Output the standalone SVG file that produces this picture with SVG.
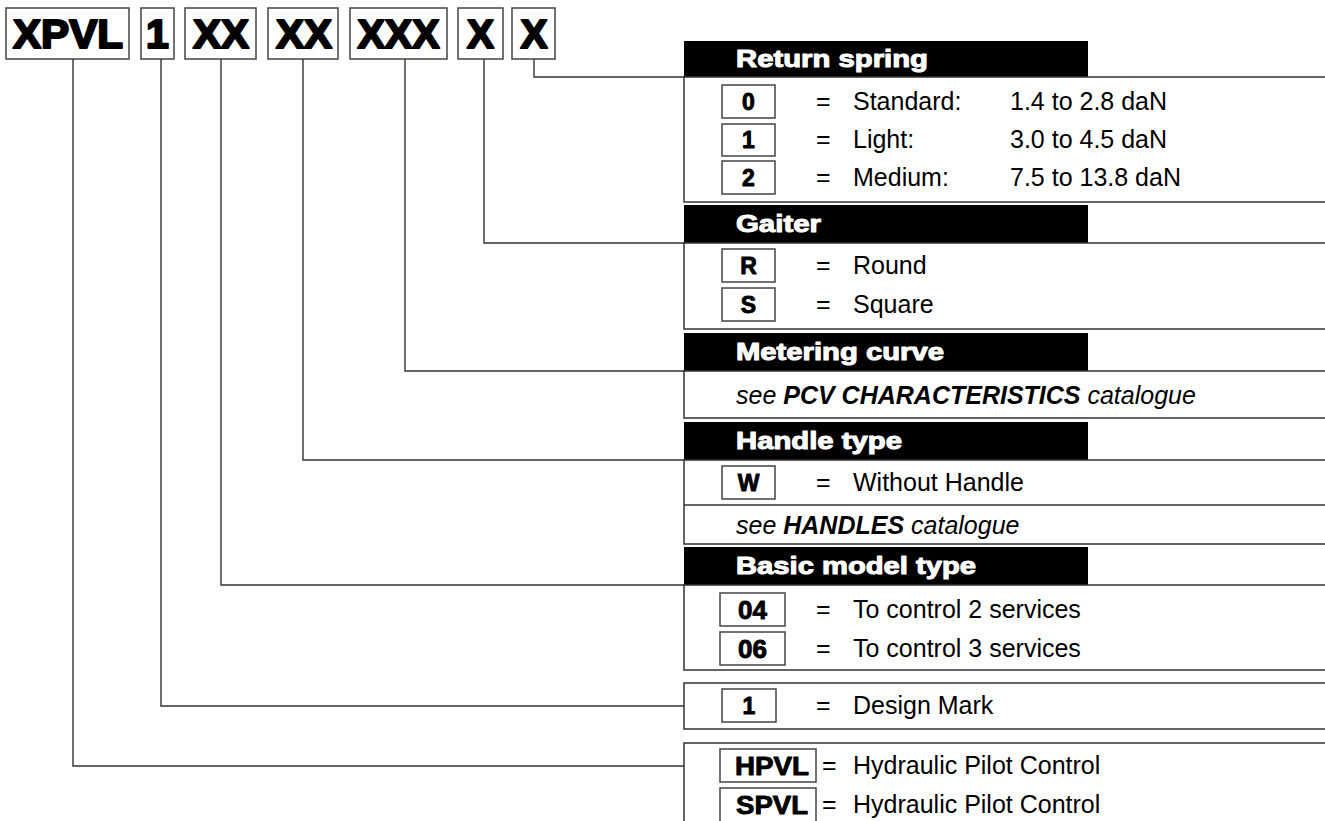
<svg xmlns="http://www.w3.org/2000/svg" width="1325" height="821" viewBox="0 0 1325 821">
<style>
.box{fill:#fff;stroke:#444;stroke-width:1.5}
.pan{fill:#fff;stroke:#333;stroke-width:1.5}
.hdr{fill:#000}
.big{font-family:"Liberation Sans",Arial,sans-serif;font-weight:bold;font-size:41px;fill:#000;stroke:#000;stroke-width:2.2;stroke-linejoin:round;text-anchor:middle}
.ht{font-family:"Liberation Sans",Arial,sans-serif;font-weight:bold;font-size:23px;fill:#fff;stroke:#fff;stroke-width:1;stroke-linejoin:round}
.code{font-family:"Liberation Sans",Arial,sans-serif;font-weight:bold;font-size:23px;fill:#000;stroke:#000;stroke-width:0.9;stroke-linejoin:round;text-anchor:middle}
.c2{font-size:26px}
.t{font-family:"Liberation Sans",Arial,sans-serif;font-size:25px;fill:#000}
.i{font-family:"Liberation Sans",Arial,sans-serif;font-size:25px;font-style:italic;fill:#000}
.conn{fill:none;stroke:#333;stroke-width:1.4}
</style>
<rect width="1325" height="821" fill="#fff"/>
<g id="code">
<rect class="box" x="6" y="8" width="123" height="51"/><text class="big" x="68" y="48" textLength="110" lengthAdjust="spacingAndGlyphs">XPVL</text>
<rect class="box" x="141" y="8" width="33" height="51"/><text class="big" x="157.5" y="48">1</text>
<rect class="box" x="185" y="8" width="71" height="51"/><text class="big" x="221" y="48" textLength="56" lengthAdjust="spacingAndGlyphs">XX</text>
<rect class="box" x="268" y="8" width="70" height="51"/><text class="big" x="304" y="48" textLength="56" lengthAdjust="spacingAndGlyphs">XX</text>
<rect class="box" x="350" y="8" width="97" height="51"/><text class="big" x="398.5" y="48" textLength="82" lengthAdjust="spacingAndGlyphs">XXX</text>
<rect class="box" x="458" y="8" width="45" height="51"/><text class="big" x="480.5" y="48" textLength="27" lengthAdjust="spacingAndGlyphs">X</text>
<rect class="box" x="512" y="8" width="43" height="51"/><text class="big" x="534" y="48" textLength="27" lengthAdjust="spacingAndGlyphs">X</text>
</g>
<g id="connectors">
<polyline class="conn" points="73,59 73,766 684,766"/>
<polyline class="conn" points="161,59 161,706 684,706"/>
<polyline class="conn" points="221,59 221,585 684,585"/>
<polyline class="conn" points="303,59 303,460 684,460"/>
<polyline class="conn" points="405,59 405,371 684,371"/>
<polyline class="conn" points="484,59 484,243 684,243"/>
<polyline class="conn" points="534,59 534,77 684,77"/>
</g>
<g id="return-spring">
<rect class="hdr" x="684" y="41" width="404" height="36"/>
<text class="ht" x="736" y="67" textLength="192" lengthAdjust="spacingAndGlyphs">Return spring</text>
<rect class="pan" x="684" y="77" width="660" height="125"/>
<rect class="box" x="722" y="85" width="53" height="33"/><text class="code" x="748.5" y="110">0</text>
<rect class="box" x="722" y="124" width="53" height="32"/><text class="code" x="748.5" y="148">1</text>
<rect class="box" x="722" y="161" width="53" height="33"/><text class="code" x="748.5" y="186">2</text>
<text class="t" x="816" y="110">=</text><text class="t" x="853" y="110">Standard:</text><text class="t" x="1010" y="110">1.4 to 2.8 daN</text>
<text class="t" x="816" y="148">=</text><text class="t" x="853" y="148">Light:</text><text class="t" x="1010" y="148">3.0 to 4.5 daN</text>
<text class="t" x="816" y="186">=</text><text class="t" x="853" y="186">Medium:</text><text class="t" x="1010" y="186">7.5 to 13.8 daN</text>
</g>
<g id="gaiter">
<rect class="hdr" x="684" y="205" width="404" height="38"/>
<text class="ht" x="736" y="232" textLength="85" lengthAdjust="spacingAndGlyphs">Gaiter</text>
<rect class="pan" x="684" y="243" width="660" height="86"/>
<rect class="box" x="722" y="249" width="53" height="33"/><text class="code" x="748.5" y="274">R</text>
<rect class="box" x="722" y="288" width="53" height="33"/><text class="code" x="748.5" y="313">S</text>
<text class="t" x="816" y="274">=</text><text class="t" x="853" y="274">Round</text>
<text class="t" x="816" y="313">=</text><text class="t" x="853" y="313">Square</text>
</g>
<g id="metering-curve">
<rect class="hdr" x="684" y="333" width="404" height="38"/>
<text class="ht" x="736" y="360" textLength="208" lengthAdjust="spacingAndGlyphs">Metering curve</text>
<rect class="pan" x="684" y="371" width="660" height="47"/>
<text class="i" x="736" y="404">see <tspan font-weight="bold">PCV CHARACTERISTICS</tspan> catalogue</text>
</g>
<g id="handle-type">
<rect class="hdr" x="684" y="422" width="404" height="38"/>
<text class="ht" x="736" y="449" textLength="166" lengthAdjust="spacingAndGlyphs">Handle type</text>
<rect class="pan" x="684" y="460" width="660" height="84"/>
<line class="pan" x1="684" y1="505" x2="1330" y2="505"/>
<rect class="box" x="722" y="466" width="53" height="33"/><text class="code" x="748.5" y="491">W</text>
<text class="t" x="816" y="491">=</text><text class="t" x="853" y="491">Without Handle</text>
<text class="i" x="736" y="534">see <tspan font-weight="bold">HANDLES</tspan> catalogue</text>
</g>
<g id="basic-model-type">
<rect class="hdr" x="684" y="547" width="404" height="38"/>
<text class="ht" x="736" y="574" textLength="240" lengthAdjust="spacingAndGlyphs">Basic model type</text>
<rect class="pan" x="684" y="585" width="660" height="85"/>
<rect class="box" x="720" y="593" width="65" height="33"/><text class="code c2" x="752.5" y="619">04</text>
<rect class="box" x="720" y="632" width="65" height="33"/><text class="code c2" x="752.5" y="658">06</text>
<text class="t" x="816" y="618">=</text><text class="t" x="853" y="618">To control 2 services</text>
<text class="t" x="816" y="657">=</text><text class="t" x="853" y="657">To control 3 services</text>
</g>
<g id="design-mark">
<rect class="pan" x="684" y="683" width="660" height="46"/>
<rect class="box" x="722" y="689" width="54" height="33"/><text class="code" x="749" y="714">1</text>
<text class="t" x="816" y="714">=</text><text class="t" x="853" y="714">Design Mark</text>
</g>
<g id="pilot-control">
<rect class="pan" x="684" y="743" width="660" height="100"/>
<rect class="box" x="720" y="749" width="96" height="33"/><text class="code c2" x="772" y="775" textLength="74" lengthAdjust="spacingAndGlyphs">HPVL</text>
<rect class="box" x="720" y="788" width="96" height="40"/><text class="code c2" x="772" y="814" textLength="72" lengthAdjust="spacingAndGlyphs">SPVL</text>
<text class="t" x="822" y="774">=</text><text class="t" x="853" y="774">Hydraulic Pilot Control</text>
<text class="t" x="822" y="813">=</text><text class="t" x="853" y="813">Hydraulic Pilot Control</text>
</g>
</svg>
